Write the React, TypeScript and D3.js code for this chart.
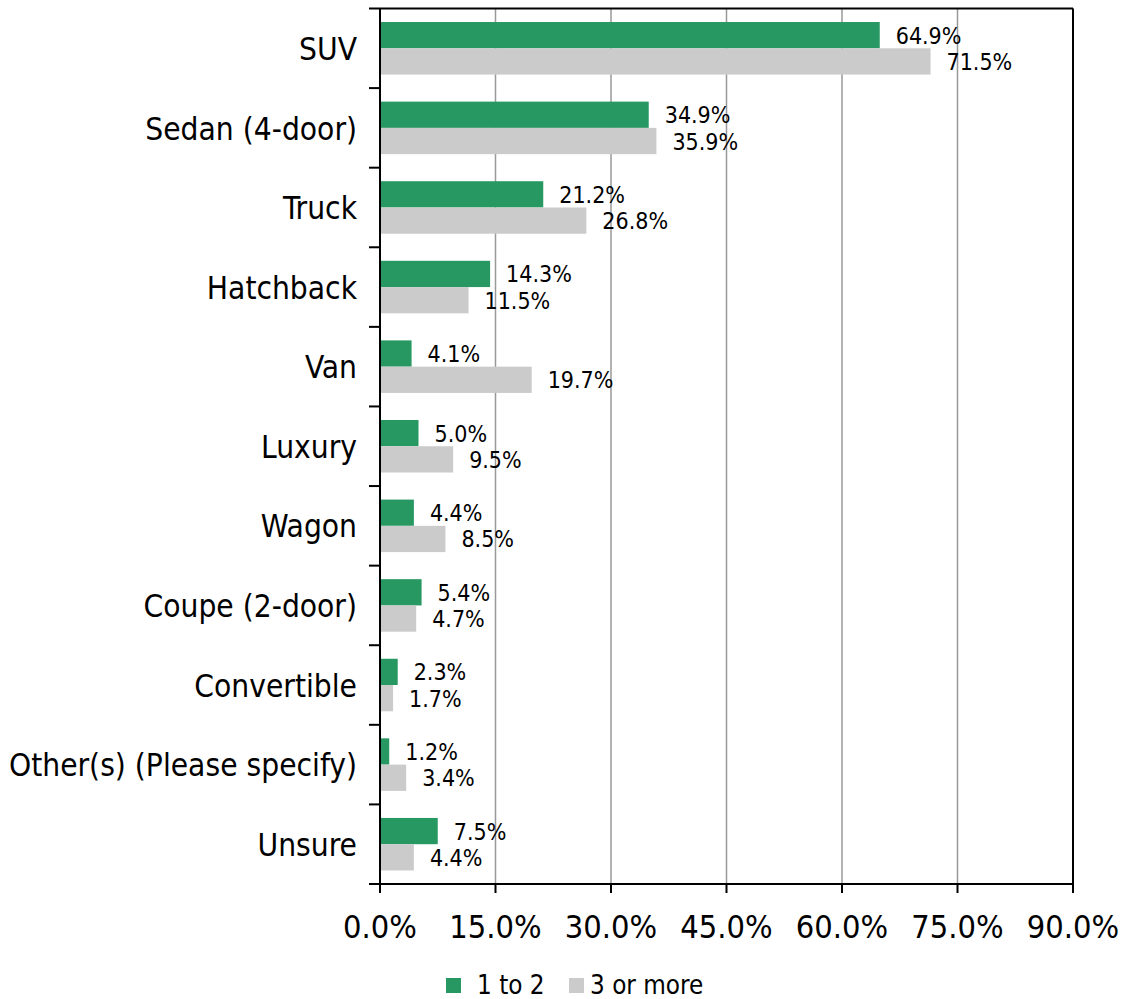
import React from "react";
import * as d3 from "d3";

const categories = [
  "SUV",
  "Sedan (4-door)",
  "Truck",
  "Hatchback",
  "Van",
  "Luxury",
  "Wagon",
  "Coupe (2-door)",
  "Convertible",
  "Other(s) (Please specify)",
  "Unsure",
];
const series1Name = "1 to 2";
const series2Name = "3 or more";
const series1 = [64.9, 34.9, 21.2, 14.3, 4.1, 5.0, 4.4, 5.4, 2.3, 1.2, 7.5];
const series2 = [71.5, 35.9, 26.8, 11.5, 19.7, 9.5, 8.5, 4.7, 1.7, 3.4, 4.4];
const xTicks = [0, 15, 30, 45, 60, 75, 90];

const GREEN = "#289862";
const GRAY = "#CBCBCB";
const FONT = "'DejaVu Sans Condensed', 'DejaVu Sans', sans-serif";

export default function App() {
  const W = 1128;
  const H = 999;
  const left = 380;
  const right = 1073;
  const top = 8.5;
  const bottom = 884;

  const x = d3.scaleLinear().domain([0, 90]).range([left, right]);
  const p = 0.34;
  const y = d3
    .scaleBand<string>()
    .domain(categories)
    .range([top, bottom])
    .paddingInner(p)
    .paddingOuter(p / 2);
  const bw = y.bandwidth() / 2;
  const step = y.step();
  const fmt = (v: number) => v.toFixed(1) + "%";

  return (
    <svg
      width={W}
      height={H}
      style={{ position: "absolute", left: 0, top: 0 }}
      fontFamily={FONT}
    >
      <rect x={0} y={0} width={W} height={H} fill="#fff" />
      {/* gridlines */}
      {xTicks.slice(1).map((t) => (
        <line
          key={"g" + t}
          x1={x(t)}
          x2={x(t)}
          y1={top}
          y2={bottom}
          stroke="#999"
          strokeWidth={1.5}
        />
      ))}
      {/* bars */}
      {categories.map((c, i) => {
        const y0 = y(c)!;
        return (
          <g key={c}>
            <rect x={x(0)} y={y0} width={x(series1[i]) - x(0)} height={bw} fill={GREEN} />
            <rect x={x(0)} y={y0 + bw} width={x(series2[i]) - x(0)} height={bw} fill={GRAY} />
            <text x={x(series1[i]) + 16} y={y0 + bw / 2} dy="0.37em" fontSize={23} fill="#000">
              {fmt(series1[i])}
            </text>
            <text x={x(series2[i]) + 16} y={y0 + bw * 1.5} dy="0.37em" fontSize={23} fill="#000">
              {fmt(series2[i])}
            </text>
            <text
              x={357}
              y={y0 + bw}
              dy="0.37em"
              fontSize={31.4}
              textAnchor="end"
              fill="#000"
            >
              {c}
            </text>
          </g>
        );
      })}
      {/* plot border */}
      <line x1={left} x2={right} y1={top} y2={top} stroke="#000" strokeWidth={2} />
      <line x1={right} x2={right} y1={top} y2={bottom} stroke="#000" strokeWidth={2} />
      <line x1={left} x2={left} y1={top} y2={bottom} stroke="#000" strokeWidth={2} />
      <line x1={left} x2={right} y1={bottom} y2={bottom} stroke="#000" strokeWidth={2} />
      {/* y category ticks */}
      {d3.range(categories.length + 1).map((i) => (
        <line
          key={"yt" + i}
          x1={left - 11}
          x2={left}
          y1={top + i * step}
          y2={top + i * step}
          stroke="#000"
          strokeWidth={2}
        />
      ))}
      {/* x ticks */}
      {xTicks.map((t) => (
        <g key={"xt" + t}>
          <line x1={x(t)} x2={x(t)} y1={bottom} y2={bottom + 9} stroke="#000" strokeWidth={2} />
          <text x={x(t)} y={938} textAnchor="middle" fontSize={32.3} fill="#000">
            {t.toFixed(1) + "%"}
          </text>
        </g>
      ))}
      {/* legend */}
      <rect x={446} y={978} width={15} height={15} fill={GREEN} />
      <text x={477} y={994} fontSize={25.8} fill="#000">
        {series1Name}
      </text>
      <rect x={569} y={978} width={15} height={15} fill={GRAY} />
      <text x={590} y={994} fontSize={25.8} fill="#000">
        {series2Name}
      </text>
    </svg>
  );
}
